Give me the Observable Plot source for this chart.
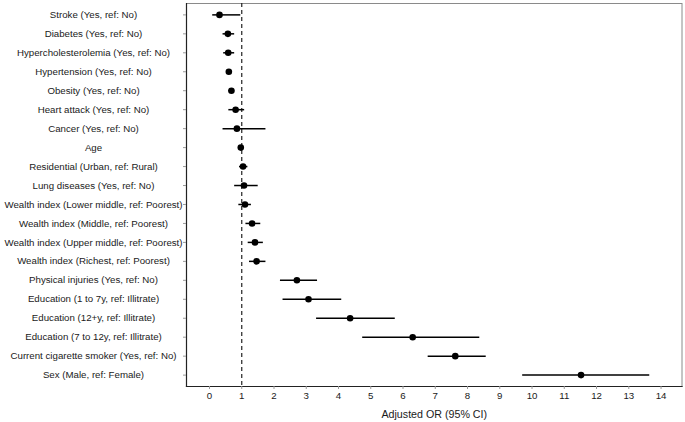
<!DOCTYPE html>
<html>
<head>
<meta charset="utf-8">
<script src="https://cdn.jsdelivr.net/npm/d3@7"></script>
<script src="https://cdn.jsdelivr.net/npm/@observablehq/plot@0.6"></script>
<style>
  html, body { margin: 0; padding: 0; background: #fff; }
  #chart svg { display: block; font-family: "Liberation Sans", Arial, Helvetica, sans-serif; }
</style>
</head>
<body>
<div id="chart"></div>
<script>
const labels = [
  "Stroke (Yes, ref: No)",
  "Diabetes (Yes, ref: No)",
  "Hypercholesterolemia (Yes, ref: No)",
  "Hypertension (Yes, ref: No)",
  "Obesity (Yes, ref: No)",
  "Heart attack (Yes, ref: No)",
  "Cancer (Yes, ref: No)",
  "Age",
  "Residential (Urban, ref: Rural)",
  "Lung diseases (Yes, ref: No)",
  "Wealth index (Lower middle, ref: Poorest)",
  "Wealth index (Middle, ref: Poorest)",
  "Wealth index (Upper middle, ref: Poorest)",
  "Wealth index (Richest, ref: Poorest)",
  "Physical injuries (Yes, ref: No)",
  "Education (1 to 7y, ref: Illitrate)",
  "Education (12+y, ref: Illitrate)",
  "Education (7 to 12y, ref: Illitrate)",
  "Current cigarette smoker (Yes, ref: No)",
  "Sex (Male, ref: Female)"
];
const or    = [0.31, 0.57, 0.58, 0.60, 0.68, 0.81, 0.85, 0.97, 1.04, 1.07, 1.10, 1.32, 1.41, 1.46, 2.71, 3.07, 4.36, 6.30, 7.62, 11.52];
const lower = [0.10, 0.42, 0.44, 0.54, 0.60, 0.60, 0.42, 0.96, 0.93, 0.78, 0.91, 1.13, 1.20, 1.24, 2.20, 2.28, 3.32, 4.75, 6.78, 9.71];
const upper = [0.97, 0.78, 0.78, 0.66, 0.78, 1.09, 1.75, 0.98, 1.19, 1.51, 1.30, 1.59, 1.67, 1.75, 3.35, 4.10, 5.76, 8.38, 8.58, 13.65];
const xTicks = [0,1,2,3,4,5,6,7,8,9,10,11,12,13,14];
const refLine = [1];

const data = labels.map((label, i) => ({label, or: or[i], lo: lower[i], hi: upper[i]}));

const chart = Plot.plot({
  width: 685,
  height: 422,
  marginLeft: 186,
  marginRight: 3.5,
  marginTop: 3,
  marginBottom: 36,
  style: {fontSize: "9.7px", fontFamily: "Liberation Sans, Arial, sans-serif", color: "#1a1a1a", background: "#fff"},
  x: {domain: [-0.713, 14.65]},
  y: {domain: labels, type: "point", padding: 0.6, round: false},
  marks: [
    Plot.frame({stroke: "#8a8a8a", strokeWidth: 1}),
    Plot.frame({anchor: "left", stroke: "#222", strokeWidth: 1.2}),
    Plot.frame({anchor: "bottom", stroke: "#222", strokeWidth: 1.2}),
    Plot.axisY({tickSize: 3, tickPadding: 90, textAnchor: "middle", stroke: "#999", fill: "#1a1a1a", label: null}),
    Plot.axisX({ticks: xTicks, tickSize: 3, tickPadding: 3, stroke: "#999", fill: "#1a1a1a", label: null}),
    Plot.axisX({ticks: [], label: "Adjusted OR (95% CI)", labelAnchor: "center", labelArrow: "none",
      labelOffset: 31, fontSize: 10.7, fill: "#1a1a1a"}),
    Plot.ruleX(refLine, {stroke: "#222", strokeWidth: 1.2, strokeDasharray: "4,3"}),
    Plot.ruleY(data, {y: "label", x1: "lo", x2: "hi", stroke: "#000", strokeWidth: 1.5}),
    Plot.dot(data, {x: "or", y: "label", r: 3.3, fill: "#000", stroke: "none"})
  ]
});
document.getElementById("chart").appendChild(chart);
</script>
</body>
</html>
